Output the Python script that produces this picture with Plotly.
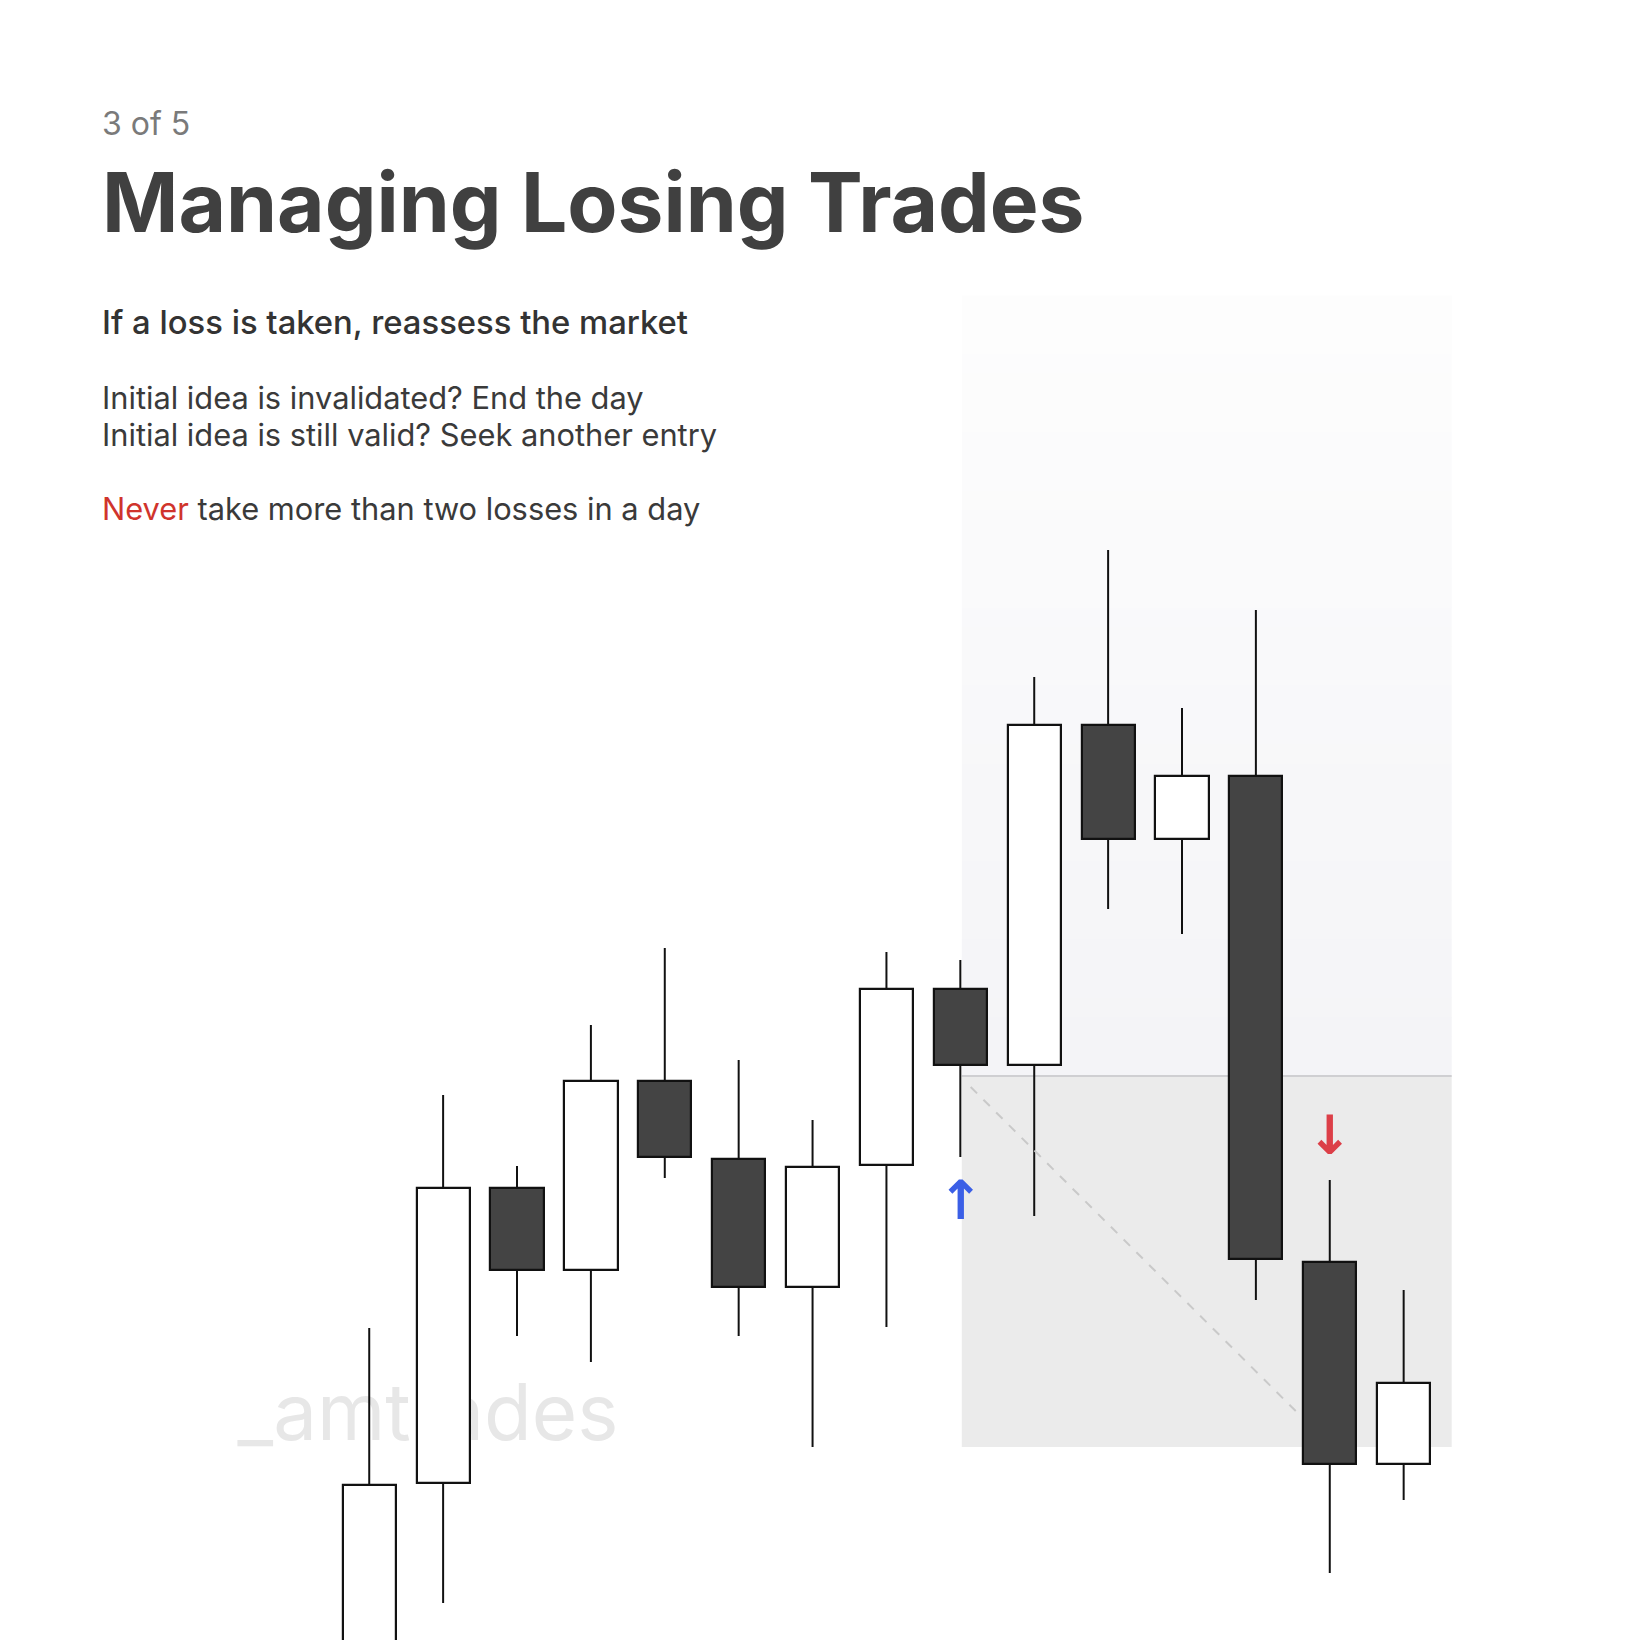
import plotly.graph_objects as go

# свечи: номер бара и цены (open, high, low, close)
bar_idx = list(range(1, 16))
opens = [-4.0, 15.7, 45.2, 37.0, 55.9, 48.1, 35.3, 47.5, 65.1, 57.5, 91.5, 80.1, 86.4, 37.8, 17.6]
highs = [31.2, 54.5, 47.4, 61.5, 69.2, 58.0, 52.0, 68.8, 68.0, 96.3, 109.0, 93.2, 103.0, 46.0, 35.0]
lows = [-10.0, 3.7, 30.4, 27.8, 46.2, 30.4, 19.3, 31.3, 48.3, 42.4, 73.1, 70.6, 34.0, 6.7, 14.0]
closes = [15.5, 45.2, 37.0, 55.9, 48.3, 35.3, 47.3, 65.1, 57.5, 91.5, 80.1, 86.4, 38.1, 17.6, 25.7]

# зона сделки: вход, стоп, цель
zone_x = [9.02, 15.65]
entry_price = 56.4
stop_price = 19.3
target_price = 134.4

# пунктир от входа к выходу
trail_x = [9.14, 13.62]
trail_y = [55.3, 22.3]

# стрелки сигналов
signal_x = [9.0, 14.0]
signal_y = [44.0, 50.5]
signal_txt = ['↑', '↓']
signal_col = ['#3b5fe6', '#dc3f48']

W = H = 1640
OFF = 8  # отступ body в html
INK = '#111111'


def px_y(p):
    return 1 - (p - OFF) / H


fig = go.Figure()

# тени свечей (сегменты над и под телом)
wx, wy = [], []
for i, o, h, l, c in zip(bar_idx, opens, highs, lows, closes):
    top, bot = max(o, c), min(o, c)
    wx += [i, i, None, i, i, None]
    wy += [h, top, None, bot, l, None]
fig.add_trace(go.Scatter(x=wx, y=wy, mode='lines', line=dict(color=INK, width=2),
                         hoverinfo='skip', showlegend=False))

# тела свечей
fig.add_trace(go.Bar(
    x=bar_idx,
    base=[min(o, c) for o, c in zip(opens, closes)],
    y=[abs(c - o) for o, c in zip(opens, closes)],
    width=0.72,
    marker=dict(color=['#ffffff' if c > o else '#444444' for o, c in zip(opens, closes)],
                line=dict(color=INK, width=2.2)),
    showlegend=False, hoverinfo='skip'))

# пунктир
fig.add_trace(go.Scatter(x=trail_x, y=trail_y, mode='lines',
                         line=dict(color='#c9c9c9', width=2, dash='dash'),
                         hoverinfo='skip', showlegend=False))

shapes = []
# верхняя зона с лёгким градиентом
n = 40
step = (target_price - entry_price) / n
for k in range(n):
    t = k / (n - 1)
    r = round(253 - t * (253 - 244))
    b = round(253 - t * (253 - 247))
    shapes.append(dict(type='rect', layer='below', x0=zone_x[0], x1=zone_x[1],
                       y0=entry_price + (n - k - 1) * step, y1=entry_price + (n - k) * step + 0.05,
                       fillcolor=f'rgb({r},{r},{b})', line=dict(width=0)))
# нижняя зона
shapes.append(dict(type='rect', layer='below', x0=zone_x[0], x1=zone_x[1],
                   y0=stop_price, y1=entry_price, fillcolor='#ebebeb', line=dict(width=0)))
shapes.append(dict(type='line', layer='below', x0=zone_x[0], x1=zone_x[1],
                   y0=entry_price, y1=entry_price, line=dict(color='#cfcfd2', width=2)))
# водяной знак
shapes.append(dict(type='rect', layer='below', xref='paper', yref='paper',
                   x0=(226 - OFF) / W, x1=(630 - OFF) / W, y0=px_y(1443), y1=px_y(1375),
                   line=dict(width=0), fillcolor='rgba(0,0,0,0)',
                   label=dict(text='_amtrades', textposition='middle center',
                              font=dict(family='Inter', size=78, color='#e7e7e7'))))

ann = []
for x, y, t, c in zip(signal_x, signal_y, signal_txt, signal_col):
    ann.append(dict(x=x, y=y, text=t, showarrow=False,
                    font=dict(family='DejaVu Sans', size=54, color=c, weight=700)))

left = (103 - OFF - 3) / W
texts = [
    ('3 of 5', 124, 32, '#7a7a7a', 400),
    ('Managing Losing Trades', 202, 82, '#404040', 700),
    ('If a loss is taken, reassess the market', 322, 32.8, '#333333', 500),
    ('Initial idea is invalidated? End the day', 397, 30.8, '#3a3a3a', 400),
    ('Initial idea is still valid? Seek another entry', 434, 30.8, '#3a3a3a', 400),
    ("<span style='color:#d0342c'>Never</span> take more than two losses in a day", 508, 30.8, '#3a3a3a', 400),
]
for t, yy, s, c, wgt in texts:
    ann.append(dict(xref='paper', yref='paper', x=left, y=px_y(yy), xanchor='left', yanchor='middle',
                    text=t, showarrow=False, font=dict(family='Inter', size=s, color=c, weight=wgt)))

fig.update_layout(
    width=W, height=H,
    margin=dict(l=0, r=0, t=0, b=0),
    paper_bgcolor='#ffffff', plot_bgcolor='#ffffff',
    font=dict(family='Inter'),
    xaxis=dict(range=[-3.889, 18.307], visible=False, fixedrange=True),
    yaxis=dict(range=[-0.8, 163.2], visible=False, fixedrange=True),
    shapes=shapes, annotations=ann,
    bargap=0, showlegend=False,
)

fig.write_html('out.html')
